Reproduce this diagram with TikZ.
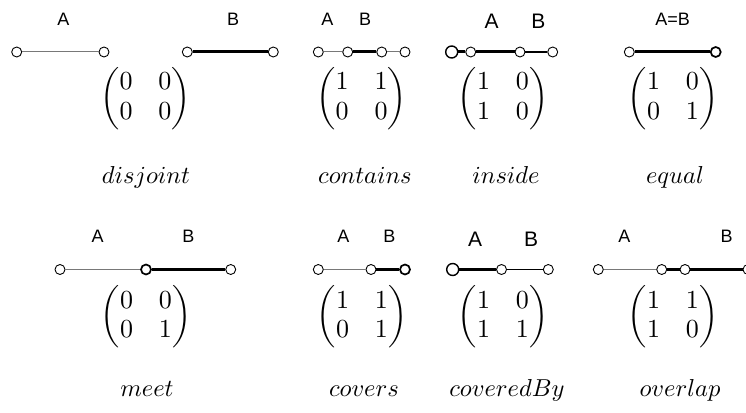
\documentclass[tikz,border=0pt]{standalone}
\usepackage{amsmath}
\usepackage{graphicx}
\usepackage{fontspec}
\newfontfamily\lab{Liberation Sans}
\newcommand\mtx[4]{\scalebox{2.6}{\renewcommand\arraystretch{0.93}$\begin{pmatrix}#1&#2\\#3&#4\end{pmatrix}$}}
\newcommand\relname[1]{\scalebox{2.45}{$#1$}}
\definecolor{thingray}{RGB}{120,120,120}
\tikzset{
  pnt/.style={circle,draw=black,fill=white,inner sep=0pt,minimum size=10pt,line width=0.9pt},
  pntb/.style={pnt,line width=1.7pt},
  pntbig/.style={pnt,minimum size=12pt,line width=1.4pt},
  thinseg/.style={draw=thingray,line width=1pt},
  thickseg/.style={draw=black,line width=3pt},
  medseg/.style={draw=black,line width=1.6pt},
  lbl/.style={font=\lab\fontsize{18}{20}\selectfont,inner sep=0pt},
  lblbig/.style={font=\lab\fontsize{21}{23}\selectfont,inner sep=0pt},
  mat/.style={inner sep=0pt},
  rel/.style={inner sep=0pt,anchor=base}
}
\begin{document}
\begin{tikzpicture}[x=1pt,y=-1pt]
\useasboundingbox[fill=white] (0,0) rectangle (746,412);
% ---------- disjoint ----------
\node[pnt] (d1) at (16.7,52) {};
\node[pnt] (d2) at (104,52) {};
\node[pnt] (d3) at (187.3,52) {};
\node[pnt] (d4) at (273.3,52) {};
\draw[thinseg] (d1) -- (d2);
\draw[thickseg] (d3) -- (d4);
\node[lbl] (dA) at (63.3,19) {A};
\node[lbl] (dB) at (233,19) {B};
\node[mat] (dM) at (145.5,98.7) {\mtx0000};
\node[rel] (dN) at (146,183) {\relname{disjoint}};
% ---------- contains ----------
\node[pnt] (c1) at (318.3,52) {};
\node[pnt] (c2) at (347.7,52) {};
\node[pnt] (c3) at (381.7,52) {};
\node[pnt] (c4) at (405,52) {};
\draw[thinseg] (c1) -- (c2);
\draw[thickseg] (c2) -- (c3);
\draw[thinseg] (c3) -- (c4);
\node[lbl] (cA) at (327.3,19.5) {A};
\node[lbl] (cB) at (365,19.5) {B};
\node[mat] (cM) at (361.7,98.7) {\mtx1100};
\node[rel] (cN) at (365,183) {\relname{contains}};
% ---------- inside ----------
\node[pntbig] (i1) at (451.7,52) {};
\node[pnt] (i2) at (470.7,52) {};
\node[pnt] (i3) at (520,52) {};
\node[pnt] (i4) at (552.7,52) {};
\draw[thickseg] (i1) -- (i2);
\draw[thickseg] (i2) -- (i3);
\draw[medseg] (i3) -- (i4);
\node[lblbig] (iA) at (491.7,21.5) {A};
\node[lblbig] (iB) at (538.3,21.5) {B};
\node[mat] (iM) at (503,98.7) {\mtx1010};
\node[rel] (iN) at (506,183) {\relname{inside}};
% ---------- equal ----------
\node[pnt] (e1) at (629.3,52) {};
\node[pntb] (e2) at (715.7,52) {};
\draw[thickseg] (e1) -- (e2);
\node[lbl] (eAB) at (672.7,19.5) {A=B};
\node[mat] (eM) at (673,98.7) {\mtx1001};
\node[rel] (eN) at (675,183) {\relname{equal}};
% ---------- meet ----------
\node[pnt] (m1) at (60,269.5) {};
\node[pntb] (m2) at (146,269.5) {};
\node[pnt] (m3) at (230.7,269.5) {};
\draw[thinseg] (m1) -- (m2);
\draw[thickseg] (m2) -- (m3);
\node[lbl] (mA) at (97.7,236.5) {A};
\node[lbl] (mB) at (188.3,236.5) {B};
\node[mat] (mM) at (146,317) {\mtx0001};
\node[rel] (mN) at (147,396) {\relname{meet}};
% ---------- covers ----------
\node[pnt] (v1) at (318.3,269.5) {};
\node[pnt] (v2) at (371,269.5) {};
\node[pntb] (v3) at (405,269.5) {};
\draw[thinseg] (v1) -- (v2);
\draw[thickseg] (v2) -- (v3);
\node[lbl] (vA) at (343.3,236.5) {A};
\node[lbl] (vB) at (389.3,236.5) {B};
\node[mat] (vM) at (362,317) {\mtx1101};
\node[rel] (vN) at (364,396) {\relname{covers}};
% ---------- coveredBy ----------
\node[pntbig] (b1) at (452.7,269.5) {};
\node[pnt] (b2) at (501.5,269.5) {};
\node[pnt] (b3) at (548.3,269.5) {};
\draw[thickseg] (b1) -- (b2);
\draw[medseg] (b2) -- (b3);
\node[lblbig] (bA) at (475,239) {A};
\node[lblbig] (bB) at (531,239) {B};
\node[mat] (bM) at (503,317) {\mtx1011};
\node[rel] (bN) at (507,396) {\relname{coveredBy}};
% ---------- overlap ----------
\node[pnt] (o1) at (598.3,269.5) {};
\node[pnt] (o2) at (661.7,269.5) {};
\node[pnt] (o3) at (685,269.5) {};
\node[pnt] (o4) at (748,269.5) {};
\draw[thinseg] (o1) -- (o2);
\draw[thickseg] (o2) -- (o3);
\draw[thickseg] (o3) -- (o4);
\node[lbl] (oA) at (624.3,236.5) {A};
\node[lbl] (oB) at (726.7,236.5) {B};
\node[mat] (oM) at (673,317) {\mtx1110};
\node[rel] (oN) at (680,396) {\relname{overlap}};
\end{tikzpicture}
\end{document}
